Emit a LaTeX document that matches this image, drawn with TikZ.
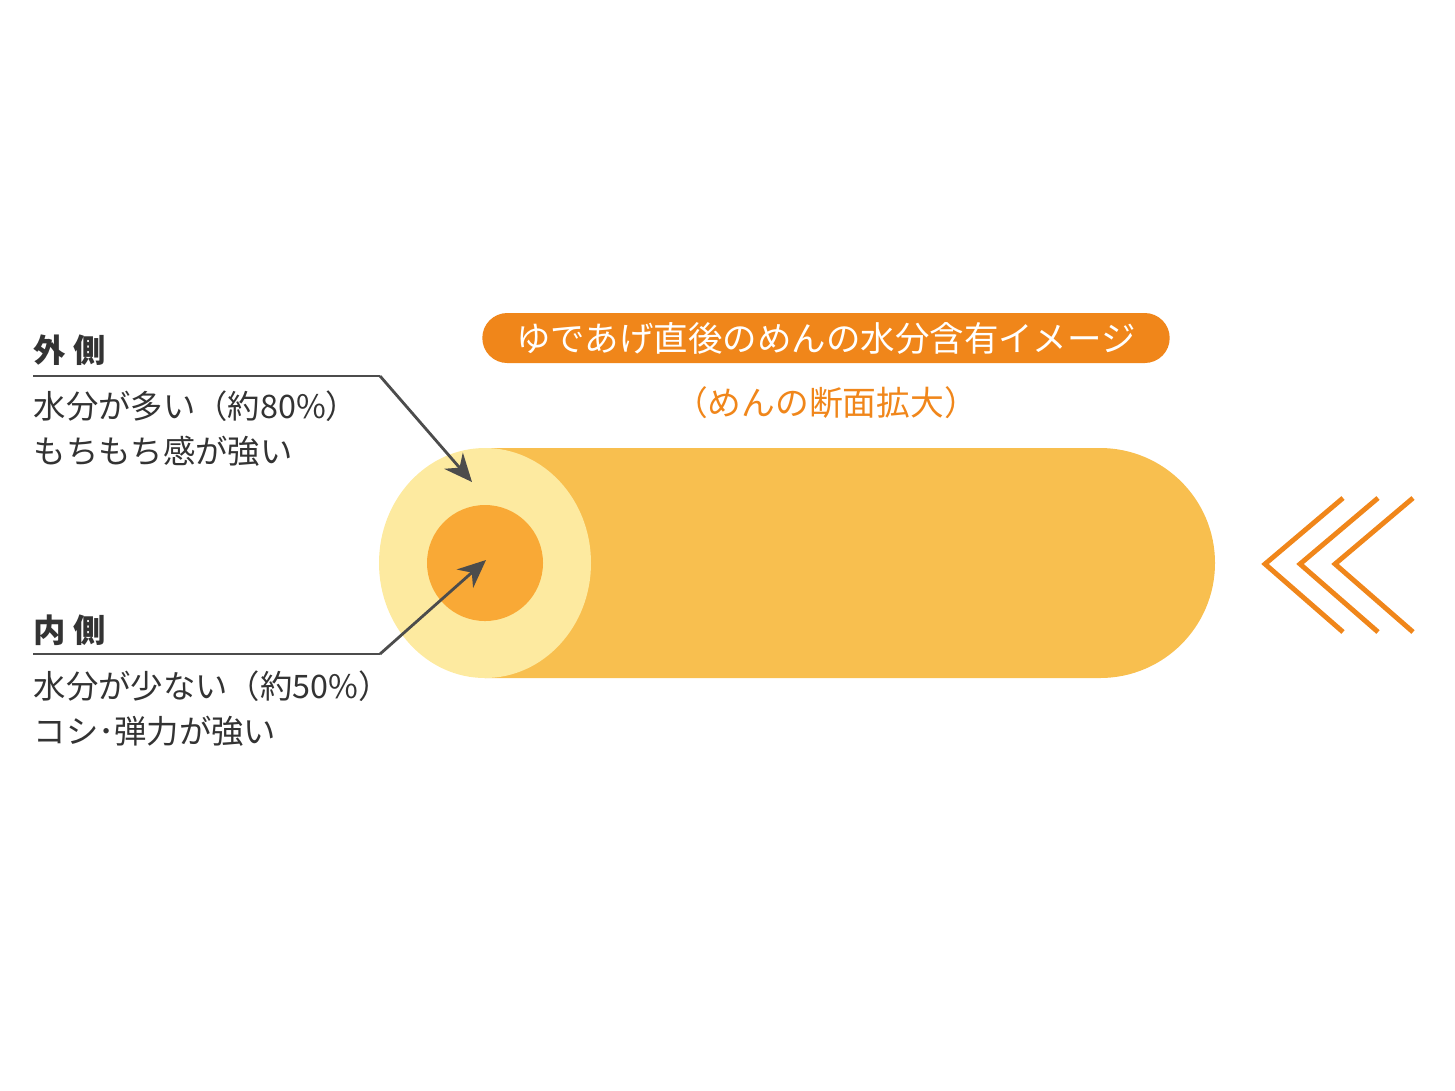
\documentclass[tikz,border=0pt]{standalone}
\usepackage{fontspec}
\setmainfont{Noto Sans CJK JP}
\usetikzlibrary{arrows.meta}
\definecolor{org}{HTML}{F0861A}
\definecolor{body}{HTML}{F8BF4F}
\definecolor{outer}{HTML}{FDEAA0}
\definecolor{inner}{HTML}{F9A936}
\definecolor{txt}{HTML}{333333}
\tikzset{lbl/.style={anchor=west,inner sep=0,text=txt,font=\fontsize{9.2}{11}\selectfont},
 head/.style={lbl,font=\fontsize{9.2}{11}\selectfont\bfseries},
 lead/.style={draw=black!70,line width=0.5pt},
 arr/.style={lead,-{Stealth[length=8pt,width=7pt]},line width=0.8pt},
 chev/.style={draw=org,line width=1.4pt}}
\begin{document}
\begin{tikzpicture}[x=0.01cm,y=-0.01cm]
\useasboundingbox (0,0) rectangle (1455,1090);
% body
\fill[body] (485,448) -- (1100,448) arc[start angle=-90,end angle=90,radius=115] -- (485,678) -- cycle;
\fill[outer] (485,563) ellipse[x radius=106,y radius=115];
\fill[inner] (485,563) circle[radius=58];
% title
\node[fill=org,rounded corners=0.25cm,minimum width=6.87cm,inner sep=0,minimum height=0.5cm,text=white,font=\fontsize{9.8}{11}\selectfont] (title) at (826,338) {ゆであげ直後のめんの水分含有イメージ};
\node[text=org,font=\fontsize{9.6}{11}\selectfont] (sub) at (826,403) {（めんの断面拡大）};
% labels
\node[head] (oh) at (33,350) {外 側};
\node[lbl] (o1) at (33,406) {水分が多い（約80\%）};
\node[lbl] (o2) at (33,451) {もちもち感が強い};
\node[head] (ih) at (33,630) {内 側};
\node[lbl] (i1) at (33,686) {水分が少ない（約50\%）};
\node[lbl] (i2) at (33,731) {コシ･弾力が強い};
\coordinate (oa) at (33,376); \coordinate (ob) at (380,376); \coordinate (ot) at (472,482);
\coordinate (ia) at (33,654); \coordinate (ib) at (380,654); \coordinate (it) at (486,560);
\draw[lead] (oa) -- (ob);
\draw[arr] (ob) -- (ot);
\draw[lead] (ia) -- (ib);
\draw[arr] (ib) -- (it);
% chevrons
\foreach \d in {0,35,70}{
 \draw[chev] (1343+\d,498) -- (1265+\d,564) -- (1343+\d,632);
}
\end{tikzpicture}
\end{document}
